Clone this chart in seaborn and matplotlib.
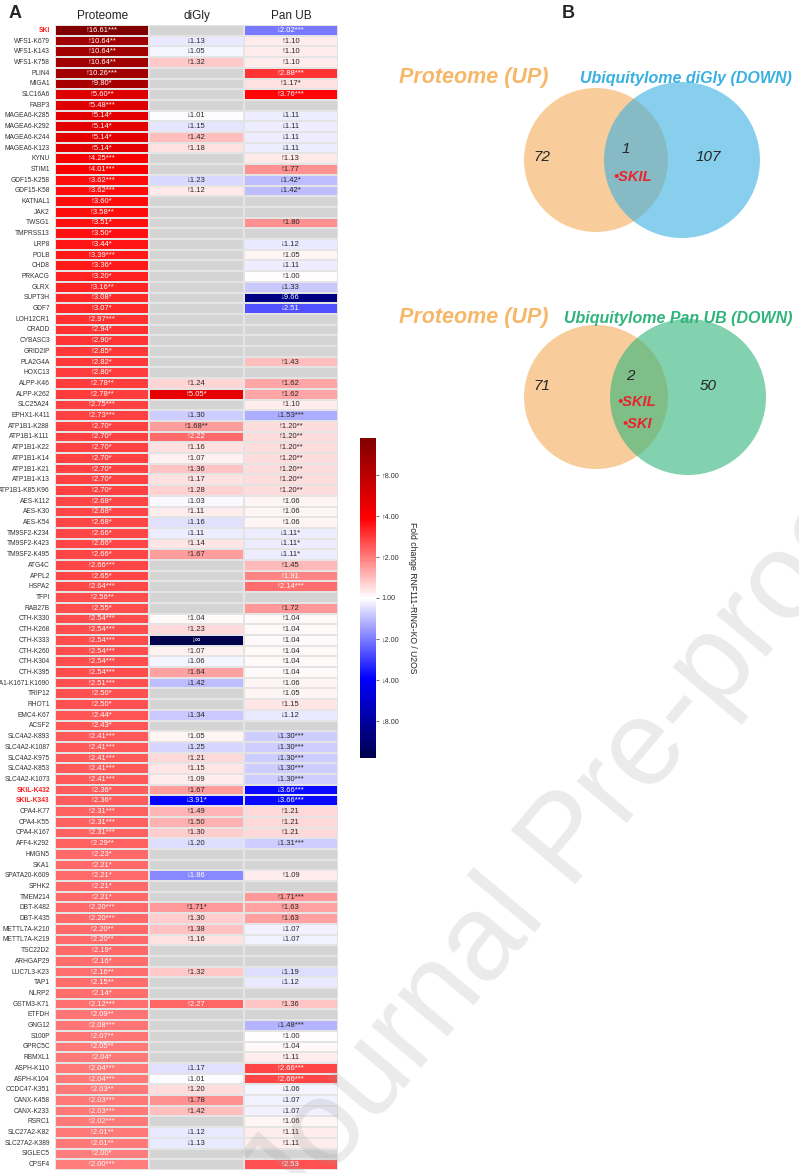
import numpy as np
import pandas as pd
import matplotlib
matplotlib.use("Agg")
import matplotlib.pyplot as plt
import seaborn as sns
from matplotlib.patches import Circle

# ---------------------------------------------------------------- data
genes = [
    "SKI", "WFS1-K679", "WFS1-K143", "WFS1-K758", "PLIN4", "MIGA1", "SLC16A6", "FABP3",
    "MAGEA6-K285", "MAGEA6-K292", "MAGEA6-K244", "MAGEA6-K123", "KYNU", "STIM1",
    "GDF15-K258", "GDF15-K58", "KATNAL1", "JAK2", "TWSG1", "TMPRSS13", "LRP8", "POLB",
    "CHD8", "PRKACG", "GLRX", "SUPT3H", "GDF7", "LOH12CR1", "CRADD", "CYBASC3", "GRID2IP",
    "PLA2G4A", "HOXC13", "ALPP-K46", "ALPP-K262", "SLC25A24", "EPHX1-K411",
    "ATP1B1-K288", "ATP1B1-K111", "ATP1B1-K22", "ATP1B1-K14", "ATP1B1-K21", "ATP1B1-K13",
    "ATP1B1-K85.K96", "AES-K112", "AES-K30", "AES-K54", "TM9SF2-K234", "TM9SF2-K423",
    "TM9SF2-K495", "ATG4C", "APPL2", "HSPA2", "TFPI", "RAB27B", "CTH-K330", "CTH-K268",
    "CTH-K333", "CTH-K260", "CTH-K304", "CTH-K395", "CA1-K1671.K1690", "TRIP12", "RHOT1",
    "EMC4-K67", "ACSF2", "SLC4A2-K893", "SLC4A2-K1087", "SLC4A2-K975", "SLC4A2-K853",
    "SLC4A2-K1073", "SKIL-K432", "SKIL-K343", "CPA4-K77", "CPA4-K55", "CPA4-K167",
    "AFF4-K292", "HMGN5", "SKA1", "SPATA20-K609", "SPHK2", "TMEM214", "DBT-K482",
    "DBT-K435", "METTL7A-K210", "METTL7A-K219", "TSC22D2", "ARHGAP29", "LUC7L3-K23",
    "TAP1", "NLRP2", "GSTM3-K71", "ETFDH", "GNG12", "S100P", "GPRC5C", "RBMXL1",
    "ASPH-K110", "ASPH-K104", "CCDC47-K351", "CANX-K458", "CANX-K233", "RSRC1",
    "SLC27A2-K82", "SLC27A2-K389", "SIGLEC5", "CPSF4",
]

# signed fold changes: positive = up, negative = down, None = not quantified
prot_fc = [
    16.61, 10.64, 10.64, 10.64, 10.26, 9.80, 5.60, 5.48,
    5.14, 5.14, 5.14, 5.14, 4.25, 4.01,
    3.62, 3.62, 3.60, 3.58, 3.51, 3.50, 3.44, 3.39,
    3.36, 3.20, 3.16, 3.08, 3.07, 2.97, 2.94, 2.90, 2.85,
    2.82, 2.80, 2.78, 2.78, 2.75, 2.73,
    2.70, 2.70, 2.70, 2.70, 2.70, 2.70,
    2.70, 2.68, 2.68, 2.68, 2.66, 2.66,
    2.66, 2.66, 2.65, 2.64, 2.56, 2.55, 2.54, 2.54,
    2.54, 2.54, 2.54, 2.54, 2.51, 2.50, 2.50,
    2.44, 2.43, 2.41, 2.41, 2.41, 2.41,
    2.41, 2.36, 2.36, 2.31, 2.31, 2.31,
    2.29, 2.23, 2.21, 2.21, 2.21, 2.21, 2.20,
    2.20, 2.20, 2.20, 2.19, 2.16, 2.16,
    2.15, 2.14, 2.12, 2.09, 2.08, 2.07, 2.05, 2.04,
    2.04, 2.04, 2.03, 2.03, 2.03, 2.02,
    2.01, 2.01, 2.00, 2.00,
]
prot_sig = [
    "***", "**", "**", "**", "***", "*", "**", "***",
    "*", "*", "*", "*", "***", "***",
    "***", "***", "*", "**", "*", "*", "*", "***",
    "*", "*", "**", "*", "*", "***", "*", "*", "*",
    "*", "*", "**", "**", "***", "***",
    "*", "*", "*", "*", "*", "*",
    "*", "*", "*", "*", "*", "*",
    "*", "***", "*", "***", "**", "*", "***", "***",
    "***", "***", "***", "***", "***", "*", "*",
    "*", "*", "***", "***", "***", "***",
    "***", "*", "*", "***", "***", "***",
    "**", "*", "*", "*", "*", "*", "***",
    "***", "**", "**", "*", "*", "**",
    "**", "*", "***", "**", "***", "**", "**", "*",
    "***", "***", "**", "***", "***", "***",
    "**", "**", "*", "***",
]
digly_fc = [
    None, -1.13, -1.05, 1.32, None, None, None, None,
    -1.01, -1.15, 1.42, 1.18, None, None,
    -1.23, 1.12, None, None, None, None, None, None,
    None, None, None, None, None, None, None, None, None,
    None, None, 1.24, 5.05, None, -1.30,
    1.68, 2.22, 1.16, 1.07, 1.36, 1.17,
    1.28, -1.03, 1.11, -1.16, -1.11, 1.14,
    1.67, None, None, None, None, None, 1.04, 1.23,
    -np.inf, 1.07, -1.06, 1.64, -1.42, None, None,
    -1.34, None, 1.05, -1.25, 1.21, 1.15,
    1.09, 1.67, -3.91, 1.49, 1.50, 1.30,
    -1.20, None, None, -1.86, None, None, 1.71,
    1.30, 1.38, 1.16, None, None, 1.32,
    None, None, 2.27, None, None, None, None, None,
    -1.17, -1.01, 1.20, 1.78, 1.42, None,
    -1.12, -1.13, None, None,
]
digly_sig = [
    "", "", "", "", "", "", "", "",
    "", "", "", "", "", "",
    "", "", "", "", "", "", "", "",
    "", "", "", "", "", "", "", "", "",
    "", "", "", "*", "", "",
    "**", "", "", "", "", "",
    "", "", "", "", "", "",
    "", "", "", "", "", "", "", "",
    "", "", "", "", "", "", "",
    "", "", "", "", "", "",
    "", "", "*", "", "", "",
    "", "", "", "", "", "", "*",
    "", "", "", "", "", "",
    "", "", "", "", "", "", "", "",
    "", "", "", "", "", "",
    "", "", "", "",
]
panub_fc = [
    -2.02, 1.10, 1.10, 1.10, 2.88, 1.17, 3.76, None,
    -1.11, -1.11, -1.11, -1.11, 1.13, 1.77,
    -1.42, -1.42, None, None, 1.80, None, -1.12, 1.05,
    -1.11, 1.00, -1.33, -9.66, -2.51, None, None, None, None,
    1.43, None, 1.62, 1.62, 1.10, -1.53,
    1.20, 1.20, 1.20, 1.20, 1.20, 1.20,
    1.20, 1.06, 1.06, 1.06, -1.11, -1.11,
    -1.11, 1.45, 1.91, 2.14, None, 1.72, 1.04, 1.04,
    1.04, 1.04, 1.04, 1.04, 1.06, 1.05, 1.15,
    -1.12, None, -1.30, -1.30, -1.30, -1.30,
    -1.30, -3.66, -3.66, 1.21, 1.21, 1.21,
    -1.31, None, None, 1.09, None, 1.71, 1.63,
    1.63, -1.07, -1.07, None, None, -1.19,
    -1.12, None, 1.36, None, -1.48, 1.00, 1.04, 1.11,
    2.66, 2.66, -1.06, -1.07, -1.07, 1.06,
    1.11, 1.11, None, 2.53,
]
panub_sig = [
    "***", "", "", "", "***", "*", "***", "",
    "", "", "", "", "", "",
    "*", "*", "", "", "", "", "", "",
    "", "", "", "", "", "", "", "", "",
    "", "", "", "", "", "***",
    "**", "**", "**", "**", "**", "**",
    "**", "", "", "", "*", "*",
    "*", "", "", "***", "", "", "", "",
    "", "", "", "", "", "", "",
    "", "", "***", "***", "***", "***",
    "***", "***", "***", "", "", "",
    "***", "", "", "", "", "***", "",
    "", "", "", "", "", "",
    "", "", "", "", "***", "", "", "",
    "***", "***", "", "", "", "",
    "", "", "", "",
]

columns = ["Proteome", "diGly", "Pan UB"]
highlight = ["SKI", "SKIL-K432", "SKIL-K343"]
cbar_folds = [8, 4, 2, 1, -2, -4, -8]

venn_top = {"left": "Proteome (UP)", "right": "Ubiquitylome diGly (DOWN)",
            "counts": [72, 1, 107], "shared": ["•SKIL"]}
venn_bottom = {"left": "Proteome (UP)", "right": "Ubiquitylome Pan UB (DOWN)",
               "counts": [71, 2, 50], "shared": ["•SKIL", "•SKI"]}

# ---------------------------------------------------------------- helpers
VMAX = 3.9


def signed_log2(v):
    if v is None:
        return np.nan
    if np.isinf(v):
        return -VMAX if v < 0 else VMAX
    return np.sign(v) * np.log2(abs(v))


def cell_label(v, sig):
    if v is None:
        return ""
    arrow = "↑" if v > 0 else "↓"
    if np.isinf(v):
        return arrow + "∞"
    return f"{arrow}{abs(v):.2f}{sig}"


series = [(prot_fc, prot_sig), (digly_fc, digly_sig), (panub_fc, panub_sig)]
values = pd.DataFrame({c: [signed_log2(v) for v in fc] for c, (fc, _) in zip(columns, series)},
                      index=genes)
values = values.clip(-VMAX, VMAX)

# ---------------------------------------------------------------- figure
sns.set_theme(style="white")
plt.rcParams["font.family"] = ["Liberation Sans", "DejaVu Sans"]

W, H = 799, 1173
fig = plt.figure(figsize=(W / 100, H / 100), dpi=100)

ax = fig.add_axes([55 / W, 1 - 1170 / H, 283 / W, 1145 / H])
cax = fig.add_axes([360 / W, 1 - 758 / H, 16 / W, 320 / H])
ax.set_facecolor("#d4d4d4")

sns.heatmap(values, ax=ax, cbar_ax=cax, cmap="seismic", vmin=-VMAX, vmax=VMAX,
            mask=values.isna(), linewidths=0.35, linecolor="#e4e4e4",
            xticklabels=columns, yticklabels=genes)

n = len(genes)
for j, (fc, sig) in enumerate(series):
    for i in range(n):
        v = fc[i]
        if v is None:
            continue
        white = j == 0 or np.isinf(v) or abs(v) >= 1.85
        ax.text(j + 0.5, i + 0.5, cell_label(v, sig[i]), ha="center", va="center",
                fontsize=5.5, color="white" if white else "#262626")

ax.xaxis.tick_top()
ax.tick_params(axis="x", length=0, pad=2, labelsize=8.5, labelcolor="#222222")
ax.tick_params(axis="y", length=2.5, width=0.6, color="#555555", pad=1.2,
               labelsize=4.8, labelcolor="#333333")
for lab in ax.get_yticklabels():
    lab.set_rotation(0)
    if lab.get_text() in highlight:
        lab.set_color("#ff1a1a")
        lab.set_fontweight("bold")
for lab in ax.get_xticklabels():
    lab.set_rotation(0)

# colour bar
cax.set_yticks([np.sign(f) * np.log2(abs(f)) for f in cbar_folds])
cax.set_yticklabels([("" if f == 1 else ("↑" if f > 0 else "↓")) + f"{abs(f):.2f}" for f in cbar_folds])
cax.tick_params(axis="y", length=2.5, width=0.6, color="#555555", labelsize=5.2,
                labelcolor="#333333", pad=1.5)
for s in cax.spines.values():
    s.set_visible(False)
fig.text(413 / W, 1 - 598 / H, "Fold change RNF111-RING-KO / U2OS", rotation=270,
         ha="center", va="center", fontsize=6.2, color="#222222")

# panel letters
fig.text(9 / W, 1 - 13 / H, "A", fontsize=13, fontweight="bold", va="center")
fig.text(562 / W, 1 - 13 / H, "B", fontsize=13, fontweight="bold", va="center")

# ---------------------------------------------------------------- Venn diagrams
vax = fig.add_axes([0, 0, 1, 1], zorder=-1)
vax.set_xlim(0, W)
vax.set_ylim(H, 0)
vax.axis("off")

orange = "#f5a54a"
blue = "#39b0e2"
green = "#2fb47c"


def venn(spec, cy, right_color, right_cx, right_r, title_y, count_y, mid_xy, shared_y):
    vax.add_patch(Circle((596, cy), 72, facecolor=orange, alpha=0.55, lw=0))
    vax.add_patch(Circle((right_cx, cy), right_r, facecolor=right_color, alpha=0.6, lw=0))
    vax.text(474, title_y, spec["left"], color="#f7b768", fontsize=15.5,
             fontweight="bold", fontstyle="italic", ha="center", va="center")
    vax.text(792, title_y, spec["right"], color=right_color, fontsize=11.5,
             fontweight="bold", fontstyle="italic", ha="right", va="center")
    a, b, c = spec["counts"]
    vax.text(542, count_y, str(a), fontsize=11, fontstyle="italic", ha="center", va="center")
    vax.text(mid_xy[0], mid_xy[1], str(b), fontsize=11, fontstyle="italic", ha="center", va="center")
    vax.text(708, count_y, str(c), fontsize=11, fontstyle="italic", ha="center", va="center")
    for k, name in enumerate(spec["shared"]):
        vax.text(mid_xy[0] + 7, shared_y + 22 * k, name, color="#e8242c", fontsize=10.5,
                 fontweight="bold", fontstyle="italic", ha="center", va="center")


venn(venn_top, 160, blue, 682, 78, 78, 157, (626, 149), 177)
venn(venn_bottom, 397, green, 688, 78, 318, 386, (630, 376), 402)

# watermark
fig.text(290 / W, 1 - 1225 / H, "Journal Pre-proof", rotation=50, rotation_mode="anchor",
         ha="left", va="baseline", fontsize=88, color="#9a9a9a", alpha=0.2, zorder=10)

fig.savefig("out.png", dpi=100)
